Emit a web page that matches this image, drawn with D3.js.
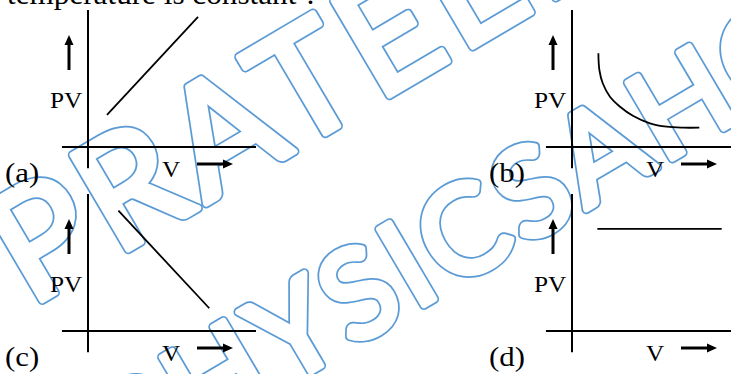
<!DOCTYPE html>
<html>
<head>
<meta charset="utf-8">
<script src="https://cdn.jsdelivr.net/npm/d3@7"></script>
<style>
  html, body { margin: 0; padding: 0; background: #fff; }
  svg { display: block; }
</style>
</head>
<body>
<svg id="chart" width="731" height="374"></svg>
<script>
// ---------- data ----------
const titleText = "temperature is constant ?";
const panelIds = ["a", "b", "c", "d"];
const panelLabels = ["(a)", "(b)", "(c)", "(d)"];
const yAxisLabel = "PV";
const xAxisLabel = "V";
// series values in axis units (V on x, PV on y), domain 0..10
const seriesA = [{v: 1.13, pv: 2.34}, {v: 6.55, pv: 9.49}];
const seriesB = [
  {v: 1.57, pv: 6.84}, {v: 1.63, pv: 5.62}, {v: 1.83, pv: 4.65},
  {v: 2.26, pv: 3.67}, {v: 2.86, pv: 2.94}, {v: 3.65, pv: 2.26},
  {v: 4.64, pv: 1.73}, {v: 5.64, pv: 1.48}, {v: 6.63, pv: 1.41},
  {v: 7.58, pv: 1.41}
];
const seriesC = [{v: 1.81, pv: 8.78}, {v: 7.22, pv: 1.66}];
const seriesD = [{v: 1.51, pv: 7.45}, {v: 8.91, pv: 7.45}];
const seriesList = [seriesA, seriesB, seriesC, seriesD];
const watermarkLines = ["PRATEEK JAIN", "PHYSICSAHOLICS"];

// ---------- layout ----------
const W = 731, H = 374;
const origins = [[88, 147], [572, 147], [88, 331], [572, 331]];
const plotW = 168, plotH = 137;
const SX = 1.1; // horizontal stretch of the source picture
const serif = "'Liberation Serif', 'Times New Roman', serif";

const svg = d3.select("#chart");
const defs = svg.append("defs");

// ---------- watermark (behind) ----------
const wmColor = "#5b9bd5";
const wmFont = "Lato, 'Open Sans', sans-serif";
const wmWeight = 400;
const wmR = 4;
const wmAngle = 30.5;
// anchors in the rotated frame: centre of letter a at ua, letter b at ub, baseline at v
const wmSpecs = [
  {size: 153, a: 0, ua: -84, b: 3, ub: 220, v: 280},
  {size: 123, a: 4, ua: 216.5, b: 8, ub: 534.6, v: 478}
];

watermarkLines.forEach((str, i) => {
  const s = wmSpecs[i];
  const tmp = svg.append("text")
    .attr("font-family", wmFont).attr("font-weight", wmWeight)
    .attr("font-size", s.size).text(str);
  const node = tmp.node();
  const centre = k => (k > 0 ? node.getSubStringLength(0, k) : 0) + node.getSubStringLength(k, 1) / 2;
  const ca = centre(s.a), cb = centre(s.b);
  tmp.remove();
  const L = ((s.ub - s.ua) - (cb - ca)) / (s.b - s.a);
  const u0 = s.ua - (ca + s.a * L);

  const mask = defs.append("mask")
    .attr("id", "wm" + i)
    .attr("maskUnits", "userSpaceOnUse")
    .attr("x", 0).attr("y", 0).attr("width", W).attr("height", H);
  mask.append("rect").attr("width", W).attr("height", H).attr("fill", "black");
  const g = mask.append("g").attr("transform", `rotate(${-wmAngle})`);
  [["white", 2 * wmR + 1.7], ["black", 2 * wmR - 1.7]].forEach(([c, sw]) => {
    g.append("text")
      .attr("x", u0).attr("y", s.v)
      .attr("letter-spacing", L)
      .attr("font-family", wmFont).attr("font-weight", wmWeight).attr("font-size", s.size)
      .attr("fill", c).attr("stroke", c)
      .attr("stroke-width", sw).attr("stroke-linejoin", "round")
      .text(str);
  });
  svg.append("rect").attr("width", W).attr("height", H)
    .attr("fill", wmColor).attr("mask", `url(#wm${i})`);
});

// ---------- title (cut off at top) ----------
svg.append("text")
  .attr("x", 7).attr("y", 4)
  .attr("textLength", 311).attr("lengthAdjust", "spacingAndGlyphs")
  .attr("font-family", serif).attr("font-size", 28.5).attr("fill", "#000")
  .text(titleText);

// ---------- panels ----------
function upArrow(g, x, y0, y1) {
  g.append("line").attr("x1", x).attr("x2", x).attr("y1", y0).attr("y2", y1 + 8)
    .attr("stroke", "#000").attr("stroke-width", 3);
  g.append("path").attr("d", `M${x},${y1} L${x - 4.5},${y1 + 10} L${x + 4.5},${y1 + 10} Z`)
    .attr("fill", "#000");
}
function rightArrow(g, x0, x1, y) {
  g.append("line").attr("x1", x0).attr("x2", x1 - 8).attr("y1", y).attr("y2", y)
    .attr("stroke", "#000").attr("stroke-width", 3);
  g.append("path").attr("d", `M${x1},${y} L${x1 - 10},${y - 4.5} L${x1 - 10},${y + 4.5} Z`)
    .attr("fill", "#000");
}

panelIds.forEach((id, i) => {
  const [ox, oy] = origins[i];
  const x = d3.scaleLinear().domain([0, 10]).range([ox, ox + plotW]);
  const y = d3.scaleLinear().domain([0, 10]).range([oy, oy - plotH]);
  const g = svg.append("g").attr("class", "panel-" + id);

  // axes
  g.append("line").attr("x1", x(0)).attr("x2", x(0))
    .attr("y1", y(10)).attr("y2", y(-1.55))
    .attr("stroke", "#000").attr("stroke-width", 2);
  g.append("line").attr("x1", x(-1.55)).attr("x2", x(10))
    .attr("y1", y(0)).attr("y2", y(0))
    .attr("stroke", "#000").attr("stroke-width", 2);

  // arrows
  upArrow(g, ox - 19, oy - 77, oy - 112);
  rightArrow(g, ox + 109, ox + 145, oy + 17);

  // labels
  g.append("text").attr("transform", `translate(${ox - 38},${oy - 39}) scale(${SX},1)`)
    .attr("font-family", serif).attr("font-size", 23).text(yAxisLabel);
  g.append("text").attr("transform", `translate(${ox + 74},${oy + 29.5}) scale(${SX},1)`)
    .attr("font-family", serif).attr("font-size", 23).text(xAxisLabel);
  g.append("text").attr("transform", `translate(${ox - 83},${oy + 35}) scale(${SX},1)`)
    .attr("font-family", serif).attr("font-size", 28).text(panelLabels[i]);

  // data
  const line = d3.line().x(d => x(d.v)).y(d => y(d.pv))
    .curve(id === "b" ? d3.curveCatmullRom.alpha(0.5) : d3.curveLinear);
  g.append("path").datum(seriesList[i]).attr("d", line)
    .attr("fill", "none").attr("stroke", "#000").attr("stroke-width", 1.8);
});
</script>
</body>
</html>
